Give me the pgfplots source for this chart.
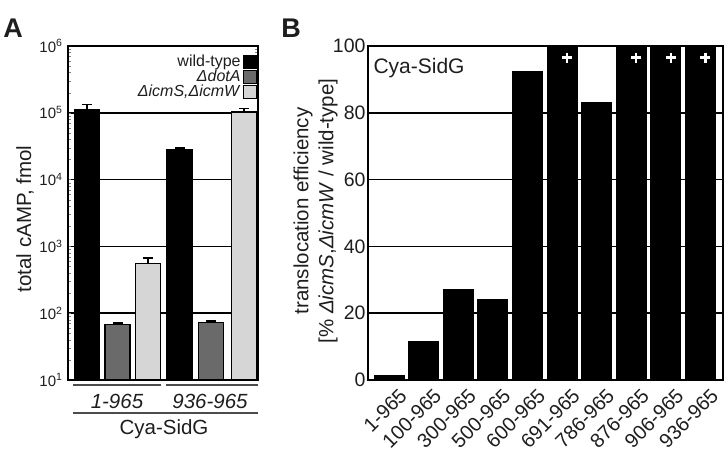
\documentclass[border=0pt]{standalone}
\usepackage{fontspec}
\setmainfont{Liberation Sans}
\usepackage{pgfplots}
\pgfplotsset{compat=1.18}
\definecolor{dgrey}{HTML}{6A6A6A}
\definecolor{lgrey}{HTML}{D6D6D6}
\definecolor{txt}{HTML}{1E1E1E}
\pgfplotsset{
  sqleg/.style={legend image code/.code={\draw[fill=#1, draw=black, line width=1.2pt] (0pt,-6.5pt) rectangle (13pt,6.5pt);}},
}
\begin{document}
\begin{tikzpicture}[font=\fontsize{20.5}{24}\selectfont, text=txt]
\path[use as bounding box] (0pt,0pt) rectangle (728pt,453pt);

% ---------------- Panel A ----------------
\begin{axis}[
  at={(68pt,73pt)}, anchor=south west, scale only axis,
  width=190pt, height=334pt,
  ymode=log, ymin=10, ymax=1e6, xmin=0, xmax=190,
  log origin=infty,
  ytick={10,100,1000,10000,100000,1000000},
  yticklabels={10\textsuperscript{1},10\textsuperscript{2},10\textsuperscript{3},10\textsuperscript{4},10\textsuperscript{5},10\textsuperscript{6}},
  yticklabel style={font=\fontsize{15}{17}\selectfont, xshift=-2pt},
  xtick=\empty,
  major tick length=0pt, minor tick num=0,
  ymajorgrids, grid style={black, line width=1.6pt},
  axis line style={line width=1.8pt},
  legend style={at={(1,0.982)}, anchor=north east, draw=none, fill=none,
    font=\fontsize{16}{18}\selectfont, row sep=-2pt, inner sep=1pt,
    legend cell align=right},
  legend plot pos=right,
]
\addplot[ybar, bar width=25, bar shift=0pt, fill=black, draw=black, line width=1.2pt,
  error bars/.cd, y dir=plus, y explicit,
  error bar style={line width=1.5pt, black},
  error mark options={rotate=90, mark size=5pt, line width=1.5pt},
  /pgfplots/.cd, sqleg=black]
  coordinates {(19,110000) +- (0,22000) (111.5,28000) +- (0,1500)};
\addlegendentry{wild-type}
\addplot[ybar, bar width=25, bar shift=0pt, fill=dgrey, draw=black, line width=1.2pt,
  error bars/.cd, y dir=plus, y explicit,
  error bar style={line width=1.5pt, black},
  error mark options={rotate=90, mark size=5pt, line width=1.5pt},
  /pgfplots/.cd, sqleg=dgrey]
  coordinates {(49.5,67) +- (0,4) (143,72) +- (0,4)};
\addlegendentry{\textit{ΔdotA}}
\addplot[ybar, bar width=25, bar shift=0pt, fill=lgrey, draw=black, line width=1.2pt,
  error bars/.cd, y dir=plus, y explicit,
  error bar style={line width=1.5pt, black},
  error mark options={rotate=90, mark size=5pt, line width=1.5pt},
  /pgfplots/.cd, sqleg=lgrey]
  coordinates {(80,560) +- (0,110) (176,103000) +- (0,12000)};
\addlegendentry{\textit{ΔicmS,ΔicmW}}
\end{axis}

% labels under panel A
\draw[line width=2.5pt, black!70] (73pt,68pt) -- (161pt,68pt);
\draw[line width=2.5pt, black!70] (166pt,68pt) -- (258pt,68pt);
\node at (117pt,52pt) {\textit{1-965}};
\node at (210pt,52pt) {\textit{936-965}};
\draw[line width=2.5pt, black!70] (73pt,40pt) -- (258pt,40pt);
\node at (164pt,24pt) {Cya-SidG};
\node[rotate=90] at (25pt,234pt) {total cAMP, fmol};
\node[font=\bfseries\fontsize{27}{30}\selectfont] at (13pt,425pt) {A};

% ---------------- Panel B ----------------
\begin{axis}[
  at={(368pt,73pt)}, anchor=south west, scale only axis,
  width=355pt, height=334pt,
  ymin=0, ymax=100, xmin=-0.61, xmax=9.65,
  ytick={0,20,40,60,80,100},
  yticklabel style={font=\fontsize{19.5}{21}\selectfont, xshift=1pt},
  /pgf/number format/assume math mode=true,
  xtick={0,1,2,3,4,5,6,7,8,9},
  xticklabels={1-965,100-965,300-965,500-965,600-965,691-965,786-965,876-965,906-965,936-965},
  xticklabel style={xshift=9pt, yshift=-7pt, rotate=45, anchor=north east, font=\fontsize{20}{22}\selectfont, inner sep=0pt},
  major tick length=0pt,
  ymajorgrids, grid style={black, line width=1.6pt},
  axis line style={line width=1.8pt},
]
\addplot[ybar, bar width=0.87, bar shift=0pt, fill=black, draw=black, line width=0pt]
  coordinates {(0,1.2) (1,11.6) (2,27.2) (3,24.2) (4,92.3) (5,100) (6,83.2) (7,100) (8,100) (9,100)};
\addplot[only marks, mark=+, mark size=5pt, white, line width=2.5pt]
  coordinates {(5.14,96.5) (7.14,96.5) (8.14,96.5) (9.14,96.5)};
\node[anchor=north west, inner sep=0pt] at (axis description cs:0.015,0.965) {\fontsize{21}{23}\selectfont Cya-SidG};
\end{axis}
\node[rotate=90] at (303pt,242pt) {translocation efficiency};
\node[rotate=90] at (328pt,242pt) {[\% \textit{ΔicmS},\textit{ΔicmW} / wild-type]};
\node[font=\bfseries\fontsize{27}{30}\selectfont] at (291pt,425pt) {B};
\end{tikzpicture}
\end{document}
